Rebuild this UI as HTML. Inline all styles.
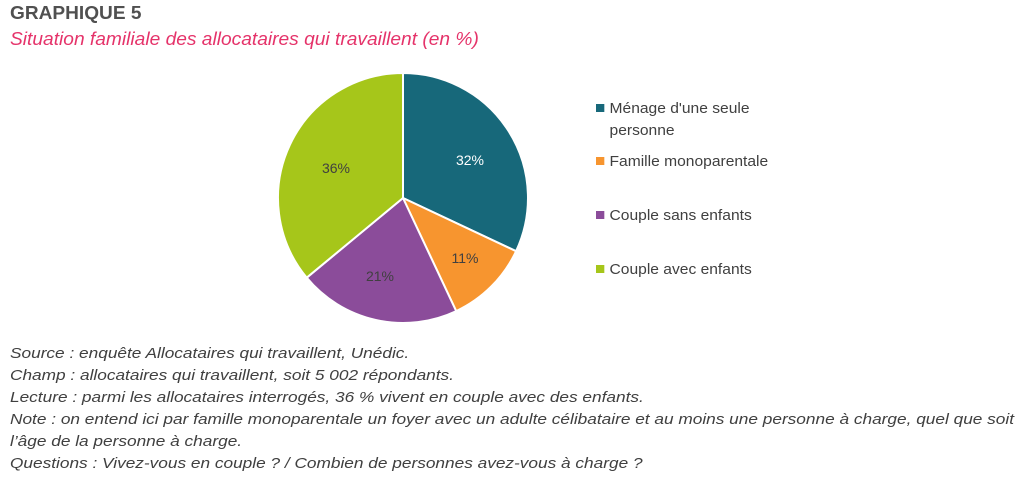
<!DOCTYPE html>
<html><head><meta charset="utf-8"><style>
body{margin:0;width:1035px;height:488px;background:#fff;position:relative;font-family:"Liberation Sans",sans-serif;overflow:hidden}
.t{position:absolute;white-space:nowrap;transform-origin:0 0}
.foot{position:absolute;left:10px;top:343px;font-style:italic;font-size:15px;color:#404040;line-height:22px;white-space:nowrap;transform:scaleX(1.15);transform-origin:0 0}
.lg{position:absolute;left:596px;font-size:15px;color:#404040;line-height:22px;white-space:nowrap;transform:scaleX(1.04);transform-origin:0 0}
.sq{display:inline-block;width:8px;height:8px;margin-right:5px;vertical-align:1px}
</style></head><body>
<div class="t" style="left:10px;top:3px;font-weight:bold;font-size:18px;color:#505050;transform:scaleX(1.06)">GRAPHIQUE 5</div>
<div class="t" style="left:10px;top:29px;font-style:italic;font-size:18px;color:#E5336A;transform:scaleX(1.065)">Situation familiale des allocataires qui travaillent (en %)</div>
<svg style="position:absolute;left:0;top:0" width="1035" height="488">
<g stroke="#fff" stroke-width="2">
<path d="M403,198 L403,73 A125,125 0 0 1 516.1,251.2 Z" fill="#17687A"/>
<path d="M403,198 L516.1,251.2 A125,125 0 0 1 456.2,311.1 Z" fill="#F7952F"/>
<path d="M403,198 L456.2,311.1 A125,125 0 0 1 306.7,277.7 Z" fill="#8B4C9A"/>
<path d="M403,198 L306.7,277.7 A125,125 0 0 1 403,73 Z" fill="#A6C61A"/>
</g>
<g font-family="Liberation Sans,sans-serif" font-size="14" fill="#404040" text-anchor="middle">
<text x="470" y="165" fill="#fff">32%</text>
<text x="465" y="263">11%</text>
<text x="380" y="281">21%</text>
<text x="336" y="173">36%</text>
</g>
</svg>
<div class="lg" style="top:98px"><span class="sq" style="background:#17687A"></span>Ménage d'une seule<br><span style="margin-left:13px">personne</span></div>
<div class="lg" style="top:151px"><span class="sq" style="background:#F7952F"></span>Famille monoparentale</div>
<div class="lg" style="top:205px"><span class="sq" style="background:#8B4C9A"></span>Couple sans enfants</div>
<div class="lg" style="top:259px"><span class="sq" style="background:#A6C61A"></span>Couple avec enfants</div>
<div class="foot">Source : enquête Allocataires qui travaillent, Unédic.<br>Champ : allocataires qui travaillent, soit 5 002 répondants.<br>Lecture : parmi les allocataires interrogés, 36 % vivent en couple avec des enfants.<br>Note : on entend ici par famille monoparentale un foyer avec un adulte célibataire et au moins une personne à charge, quel que soit<br>l’âge de la personne à charge.<br>Questions : Vivez-vous en couple ? / Combien de personnes avez-vous à charge ?</div>
</body></html>
